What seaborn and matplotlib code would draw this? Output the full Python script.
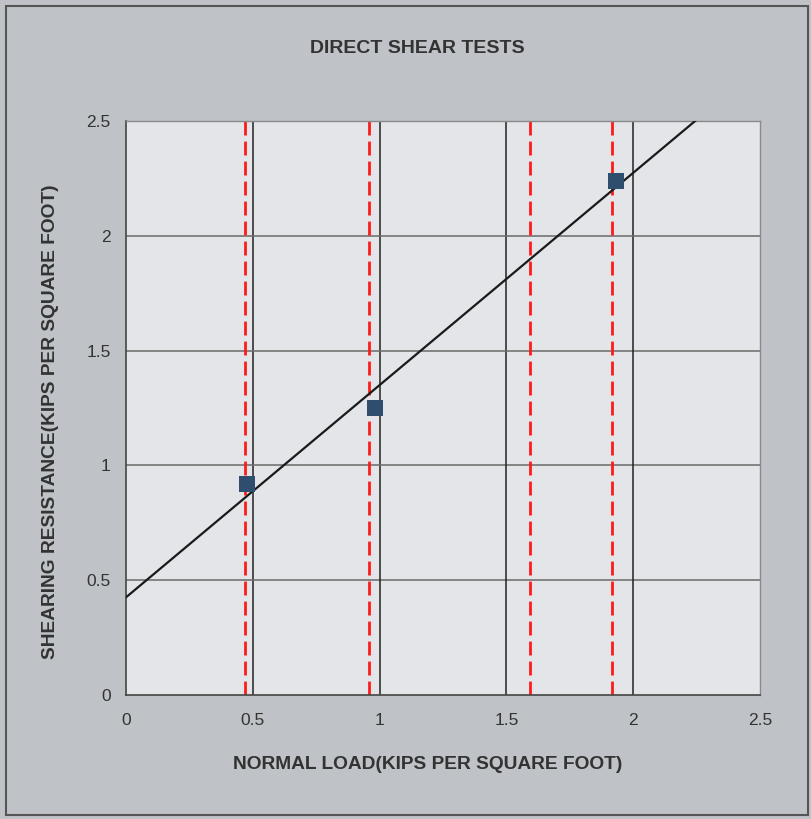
import numpy as np
import pandas as pd
import matplotlib
matplotlib.use("Agg")
import matplotlib.pyplot as plt
from matplotlib.patches import Rectangle
import seaborn as sns

# Data
normal_load = [0.477, 0.982, 1.932]
shear_resistance = [0.92, 1.25, 2.24]
red_lines = [0.47, 0.96, 1.595, 1.915]
ticks = [0, 0.5, 1, 1.5, 2, 2.5]
tick_labels = ["0", "0.5", "1", "1.5", "2", "2.5"]

df = pd.DataFrame({"x": normal_load, "y": shear_resistance})

sns.set_style("white")
plt.rcParams["font.family"] = ["Liberation Sans", "DejaVu Sans"]

fig = plt.figure(figsize=(8.12, 8.19), dpi=100)
fig.patch.set_facecolor("#bfc2c6")
fig.patches.append(Rectangle((0.007, 0.005), 0.988, 0.988, transform=fig.transFigure,
                             fill=False, edgecolor="#555555", linewidth=1.5))

ax = fig.add_axes([0.155, 0.1514, 0.781, 0.7009])
ax.set_facecolor("#e3e5e9")
ax.set_xlim(0, 2.5)
ax.set_ylim(0, 2.5)

# gridlines
for t in ticks[1:-1]:
    ax.axvline(t, color="#222222", lw=1.1, zorder=1)
    ax.axhline(t, color="#6a6a6a", lw=1.1, zorder=1)

for xv in red_lines:
    ax.axvline(xv, color="#ff1a1a", lw=2.0, ls=(0, (5, 2.2)), zorder=2)

sns.regplot(data=df, x="x", y="y", ax=ax, ci=None, truncate=False, marker="s",
            scatter_kws=dict(s=120, color="#2f4e6e", zorder=4, linewidths=0, alpha=1),
            line_kws=dict(color="#1a1a1a", lw=1.6, zorder=3))
ax.set_xlim(0, 2.5)
ax.set_ylim(0, 2.5)

ax.set_xticks(ticks)
ax.set_xticklabels(tick_labels)
ax.set_yticks(ticks)
ax.set_yticklabels(tick_labels)
ax.tick_params(axis="both", direction="out", length=5, width=1, color="#444444",
               labelsize=12.5, labelcolor="#333333", pad=6)
ax.tick_params(axis="x", pad=8)

for s in ["left", "bottom"]:
    ax.spines[s].set_color("#444444")
    ax.spines[s].set_linewidth(1.2)
for s in ["top", "right"]:
    ax.spines[s].set_color("#8a8a8a")
    ax.spines[s].set_linewidth(1.0)

ax.set_xlabel("NORMAL LOAD(KIPS PER SQUARE FOOT)", fontsize=13.8, fontweight="bold",
              color="#333333")
ax.xaxis.set_label_coords(0.476, -0.107)
ax.set_ylabel("SHEARING RESISTANCE(KIPS PER SQUARE FOOT)", fontsize=13.8, fontweight="bold",
              color="#333333")
ax.yaxis.set_label_coords(-0.105, 0.476)
fig.text(0.514, 0.941, "DIRECT SHEAR TESTS", ha="center", va="center", fontsize=14,
         fontweight="bold", color="#333333")

fig.savefig("out.png", dpi=100, facecolor=fig.get_facecolor())
